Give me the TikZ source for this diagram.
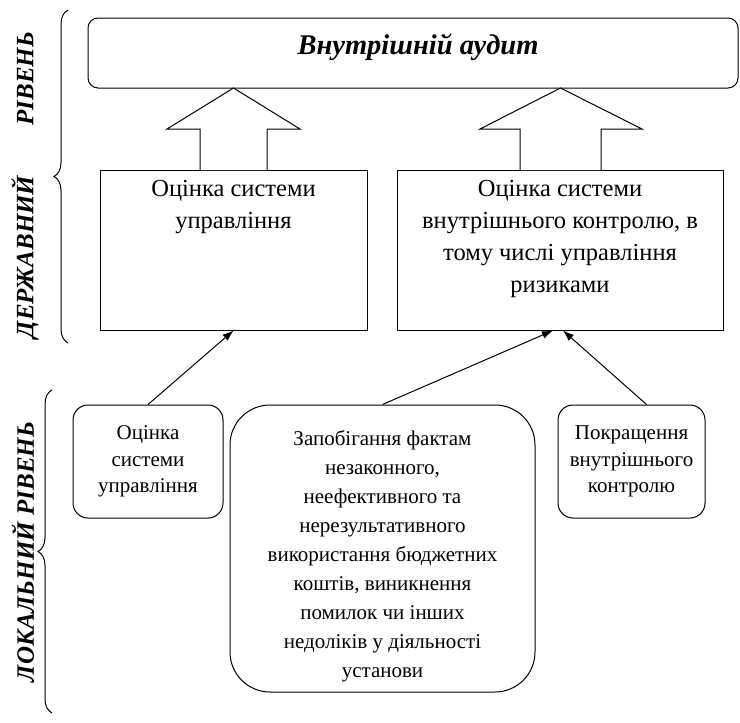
\documentclass[tikz,border=0pt]{standalone}
\usepackage{fontspec}
\setmainfont{Liberation Serif}
\usetikzlibrary{arrows.meta, positioning, calc, decorations.pathreplacing}

\begin{document}
\begin{tikzpicture}[
    x=1pt, y=-1pt, line width=1pt,
    audit/.style={draw, rounded corners=10pt, minimum width=650pt, minimum height=70pt},
    headtext/.style={font=\fontsize{28.5}{32}\selectfont\bfseries\itshape, inner sep=0pt},
    govbox/.style={draw, minimum height=160pt},
    govtext/.style={align=center, font=\fontsize{24.5}{32}\selectfont, inner sep=0pt},
    localbox/.style={draw, rounded corners=15pt, align=center, font=\fontsize{21}{26.5}\selectfont},
    blockarrow/.style={draw, fill=white},
    arrow/.style={-{Latex[length=11pt, width=8pt]}},
    level/.style={rotate=90, font=\fontsize{25}{28}\selectfont\bfseries\itshape, inner sep=0pt},
    levelbrace/.style={decorate, decoration={brace, amplitude=14pt}}
]
    \useasboundingbox (0,0) rectangle (740,723);

    % Top level
    \node[audit] (audit) at (413,53) {};
    \node[headtext] (audittitle) at ([xshift=5pt, yshift=6pt]audit.center) {Внутрішній аудит};

    % State level boxes
    \node[govbox, minimum width=267pt] (govl) at (233.5,250) {};
    \node[govbox, minimum width=326pt] (govr) at (560,250) {};
    \node[govtext, below=10pt of govl.north] (govltext) {Оцінка системи\\управління};
    \node[govtext, below=10pt of govr.north] (govrtext) {Оцінка системи\\внутрішнього контролю, в\\тому числі управління\\ризиками};

    % Block arrows
    \draw[blockarrow] (200,170) -- (200,129) -- (167,129) -- (233.5,88) -- (300,129) -- (267,129) -- (267,170);
    \draw[blockarrow] (520,170) -- (520,129) -- (480,129) -- (560.5,88) -- (642,129) -- (601,129) -- (601,170);

    % Local level boxes
    \node[localbox, minimum width=150pt, minimum height=113pt] (evalsys) at (148,461.5) {Оцінка\\системи\\управління};
    \node[localbox, rounded corners=40pt, font=\fontsize{21}{29}\selectfont, minimum width=305pt, minimum height=287pt] (prevent) at (382.5,548.5) {\rule{0pt}{30pt}Запобігання фактам\\незаконного,\\неефективного та\\нерезультативного\\використання бюджетних\\коштів, виникнення\\помилок чи інших\\недоліків у діяльності\\установи};
    \node[localbox, minimum width=147pt, minimum height=113pt] (improve) at (631.5,461.5) {Покращення\\внутрішнього\\контролю};

    % Connectors
    \draw[arrow] (evalsys.north) -- (govl.south);
    \draw[arrow] (prevent.north) -- ([xshift=-7pt]govr.south);
    \draw[arrow] ([xshift=15pt]improve.north) -- ([xshift=3pt]govr.south);

    % Levels
    \draw[levelbrace] (68,343) -- (68,10);
    \node[level] (statelevel) at (25,185) {\makebox[306pt]{ДЕРЖАВНИЙ\hfill РІВЕНЬ}};
    \draw[levelbrace] (52,713) -- (52,390);
    \node[level] (locallevel) at (23,552) {ЛОКАЛЬНИЙ РІВЕНЬ};
\end{tikzpicture}
\end{document}
